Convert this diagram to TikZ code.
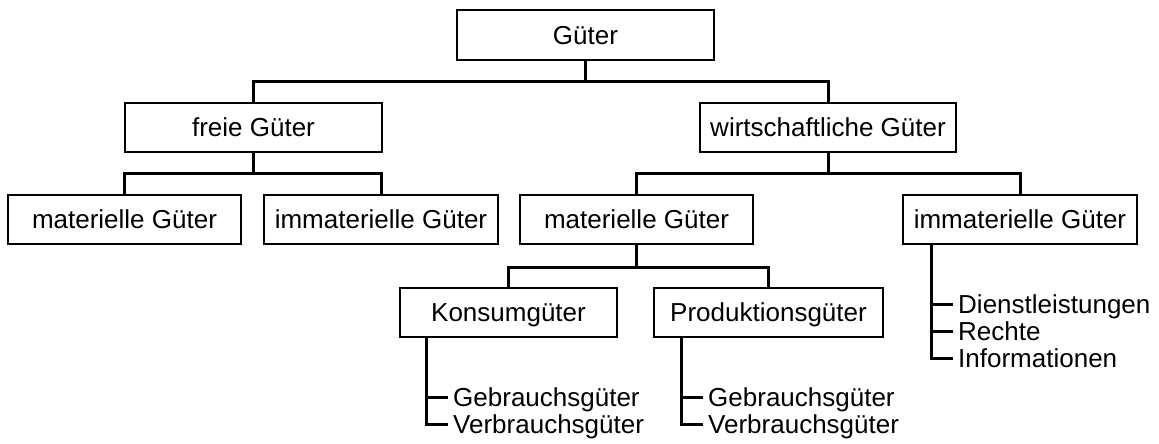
\documentclass[tikz,border=0pt]{standalone}
\usepackage{fontspec}
\setmainfont{Liberation Sans}
\begin{document}
\begin{tikzpicture}[x=1pt,y=-1pt,
  txt/.style={font=\fontsize{26}{30}\selectfont, text height=18.6pt, text depth=0pt},
  box/.style={txt, draw, line width=1.2pt, minimum height=49pt, inner sep=0pt},
  item/.style={txt, anchor=west, inner xsep=5pt, inner ysep=0pt},
  conn/.style={line width=3pt}]
\useasboundingbox (0,0) rectangle (1159,444);
% boxes
\node[box, minimum width=257pt, minimum height=50pt] (guter) at (585.5,35) {Güter};
\node[box, minimum width=257pt] (freie) at (253.5,127.5) {freie Güter};
\node[box, minimum width=256pt] (wirt) at (828,127.5) {wirtschaftliche Güter};
\node[box, minimum width=233pt] (matL) at (124.5,219.5) {materielle Güter};
\node[box, minimum width=234pt] (immL) at (381,219.5) {immaterielle Güter};
\node[box, minimum width=233pt] (matR) at (636.5,219.5) {materielle Güter};
\node[box, minimum width=234pt] (immR) at (1020,219.5) {immaterielle Güter};
\node[box, minimum width=217pt] (kons) at (508.5,312.5) {Konsumgüter};
\node[box, minimum width=229pt] (prod) at (768.5,312.5) {Produktionsgüter};
% list items
\node[item] (k1) at (448,397) {Gebrauchsgüter};
\node[item] (k2) at (448,424) {Verbrauchsgüter};
\node[item] (p1) at (703,397) {Gebrauchsgüter};
\node[item] (p2) at (703,424) {Verbrauchsgüter};
\node[item] (i1) at (953,304) {Dienstleistungen};
\node[item] (i2) at (953,331) {Rechte};
\node[item] (i3) at (953,358) {Informationen};
% tree connectors
\draw[conn] (guter.south) -- ++(0,22);
\draw[conn] (freie.north) -- ++(0,-21) -| (wirt.north);
\draw[conn] (freie.south) -- ++(0,22);
\draw[conn] (matL.north) -- ++(0,-21) -| (immL.north);
\draw[conn] (wirt.south) -- ++(0,22);
\draw[conn] (matR.north) -- ++(0,-21) -| (immR.north);
\draw[conn] (matR.south) -- ++(0,24);
\draw[conn] (kons.north) -- ++(0,-20) -| (prod.north);
% list connectors
\coordinate (ks) at ([xshift=27pt]kons.south west);
\coordinate (ps) at ([xshift=28pt]prod.south west);
\coordinate (is) at ([xshift=29pt]immR.south west);
\draw[conn] (ks) |- (k2.west);
\draw[conn] (ks |- k1.west) -- (k1.west);
\draw[conn] (ps) |- (p2.west);
\draw[conn] (ps |- p1.west) -- (p1.west);
\draw[conn] (is) |- (i3.west);
\draw[conn] (is |- i1.west) -- (i1.west);
\draw[conn] (is |- i2.west) -- (i2.west);
\end{tikzpicture}
\end{document}
